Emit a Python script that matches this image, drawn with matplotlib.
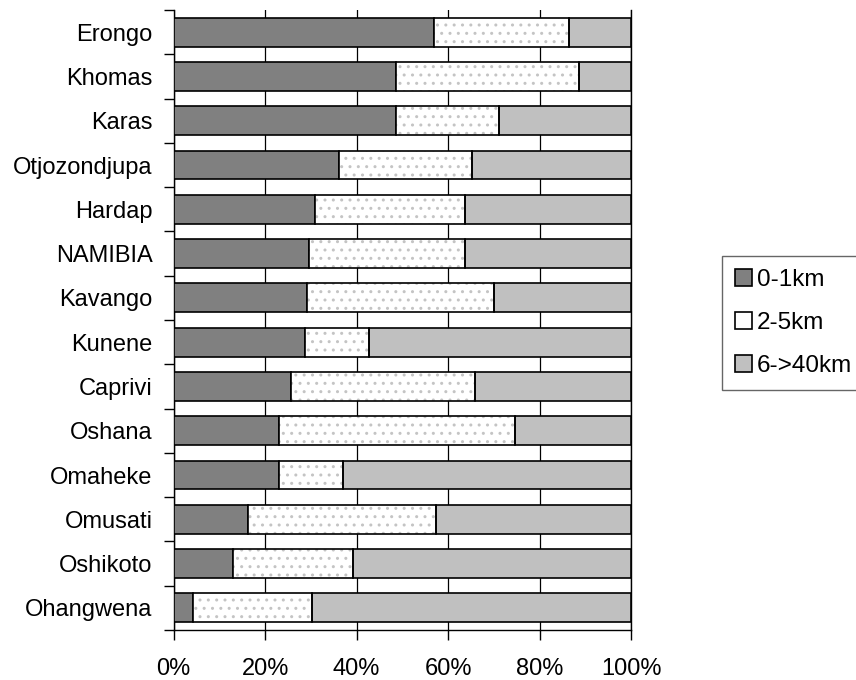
import matplotlib.pyplot as plt
import numpy as np
from matplotlib.patches import Patch

regions = ["Erongo", "Khomas", "Karas", "Otjozondjupa", "Hardap", "NAMIBIA",
           "Kavango", "Kunene", "Caprivi", "Oshana", "Omaheke", "Omusati",
           "Oshikoto", "Ohangwena"]
# share of households by distance (%)
km_0_1 = [56.8, 48.5, 48.5, 36.2, 31.0, 29.7, 29.2, 28.8, 25.7, 23.1, 23.1, 16.2, 13.1, 4.3]
km_2_5 = [29.7, 40.1, 22.7, 28.9, 32.7, 34.0, 40.7, 14.0, 40.2, 51.6, 14.0, 41.1, 26.2, 25.9]
km_6_40 = [13.5, 11.4, 28.8, 34.9, 36.3, 36.3, 30.1, 57.2, 34.1, 25.3, 62.9, 42.7, 60.7, 69.8]
series_names = ["0-1km", "2-5km", "6->40km"]
xticks = [0, 20, 40, 60, 80, 100]
xlabels = ["0%", "20%", "40%", "60%", "80%", "100%"]

plt.rcParams["font.family"] = ["Liberation Sans", "DejaVu Sans"]
plt.rcParams["hatch.linewidth"] = 1.0
fs = 17

fig = plt.figure(figsize=(8.56, 6.80), dpi=100)
ax = fig.add_axes([0.2027, 0.0735, 0.5348, 0.9118])

y = np.arange(len(regions))
h = 0.65
a = np.array(km_0_1)
b = np.array(km_2_5)
c = np.array(km_6_40)

ax.barh(y, a, height=h, color="#808080", edgecolor="black", linewidth=1.2, zorder=3)
# dotted middle segment: hatch layer first, outline on top
ax.barh(y, b, left=a, height=h, color="white", edgecolor="#c4c4c4", hatch="..",
        linewidth=0, zorder=3)
ax.barh(y, b, left=a, height=h, color="none", edgecolor="black", linewidth=1.2, zorder=4)
ax.barh(y, c, left=a + b, height=h, color="#c0c0c0", edgecolor="black", linewidth=1.2, zorder=3)

ax.set_xlim(0, 100)
ax.set_ylim(len(regions) - 0.5, -0.5)

ax.set_xticks(xticks)
ax.set_xticklabels(xlabels, fontsize=fs)
ax.grid(axis="x", color="black", linewidth=0.9, zorder=0)

# category labels centred, tick marks between categories
ax.set_yticks(np.arange(len(regions) + 1) - 0.5)
ax.set_yticklabels([])
ax.set_yticks(y, minor=True)
ax.set_yticklabels(regions, minor=True, fontsize=fs)
ax.tick_params(axis="y", which="minor", length=0, pad=15)
ax.tick_params(axis="y", which="major", length=7, width=1, direction="out")
ax.tick_params(axis="x", length=7, width=1, direction="out", pad=13)

ax.spines["top"].set_visible(False)
for s in ["left", "bottom", "right"]:
    ax.spines[s].set_linewidth(1)
    ax.spines[s].set_color("black")

handles = [
    Patch(facecolor="#808080", edgecolor="black", linewidth=1.2),
    Patch(facecolor="white", edgecolor="black", linewidth=1.2),
    Patch(facecolor="#c0c0c0", edgecolor="black", linewidth=1.2),
]
leg = fig.legend(handles, series_names, loc="upper left",
                 bbox_to_anchor=(721.7 / 856, 1 - 256 / 680), fontsize=fs + 0.5,
                 frameon=True, fancybox=False, borderaxespad=0, borderpad=0.55,
                 handlelength=0.7, handleheight=0.7, handletextpad=0.2,
                 labelspacing=0.85)
leg.get_frame().set_edgecolor("#404040")
leg.get_frame().set_linewidth(1)

fig.savefig("out.png", dpi=100)
